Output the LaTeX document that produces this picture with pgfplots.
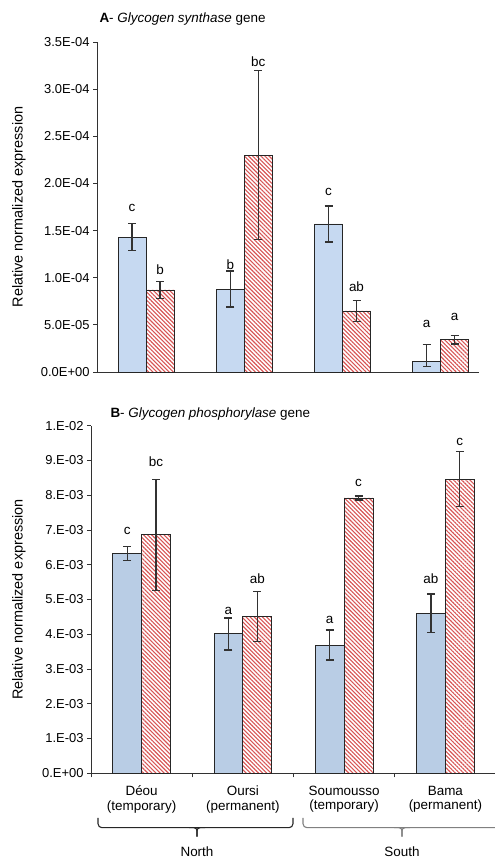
\documentclass[border=0pt]{standalone}
\usepackage{fontspec}
\setmainfont{Liberation Sans}
\usepackage{pgfplots}
\pgfplotsset{compat=1.18}
\usetikzlibrary{patterns.meta}
\definecolor{barblueA}{RGB}{198,217,241}
\definecolor{barblueB}{RGB}{185,205,229}
\definecolor{hatchred}{RGB}{215,85,85}
\definecolor{axgray}{RGB}{50,50,50}
\newcommand{\fs}[1]{\fontsize{#1}{#1}\selectfont}
\tikzset{lett/.style={font=\fs{13.5}, anchor=base, inner sep=0pt}}
\pgfplotsset{
  common/.style={
    scale only axis, clip=false,
    axis x line*=bottom, axis y line*=left,
    axis line style={-, draw=axgray, line width=0.9bp},
    tick align=outside, major tick length=4bp,
    tick style={draw=axgray, line width=0.9bp},
    ytick pos=left, scaled y ticks=false,
    yticklabel style={font=\fs{13}},
    xmin=0.5, ymin=0,
  },
  errs/.style={
    error bars/y dir=both, error bars/y explicit,
    error bars/error bar style={draw=axgray, line width=1.3bp},
    error bars/error mark options={rotate=90, mark size=4bp, line width=1.3bp, draw=axgray}},
  bluebar/.style={ybar, bar width=0.285, bar shift=0pt, draw=black!85, line width=0.9bp, errs},
  redbar/.style={ybar, bar width=0.285, bar shift=0pt, draw=black!85, line width=0.9bp,
    fill=white, pattern={Lines[angle=-45, distance=2.9bp, line width=1.1bp]}, pattern color=hatchred, errs},
}
\begin{document}
\begin{tikzpicture}
\path[use as bounding box] (0,0) rectangle (495bp,859bp);
% Panel A
\begin{axis}[common,
  at={(97bp,487bp)}, anchor=south west,
  width=382bp, height=330bp,
  xmax=4.39, ymax=3.5e-4,
  xtick=\empty,
  ytick={0,0.5e-4,1e-4,1.5e-4,2e-4,2.5e-4,3e-4,3.5e-4},
  yticklabels={0.0E+00,5.0E-05,1.0E-04,1.5E-04,2.0E-04,2.5E-04,3.0E-04,3.5E-04},
]
\addplot[bluebar, fill=barblueA] coordinates {
  (0.8575,1.43e-4) +- (0,1.45e-5)
  (1.8575,0.88e-4) +- (0,1.9e-5)
  (2.8575,1.57e-4) +- (0,1.9e-5)
  (3.8575,0.11e-4) += (0,1.8e-5) -= (0,0.5e-5)
};
\addplot[redbar] coordinates {
  (1.1425,0.87e-4) +- (0,0.93e-5)
  (2.1425,2.30e-4) +- (0,0.895e-4)
  (3.1425,0.647e-4) +- (0,1.13e-5)
  (4.1425,0.343e-4) +- (0,0.45e-5)
};
\node[lett] at (axis cs:0.8575,1.697e-4) {c};
\node[lett] at (axis cs:1.1425,1.039e-4) {b};
\node[lett] at (axis cs:1.8575,1.092e-4) {b};
\node[lett] at (axis cs:2.1425,3.245e-4) {bc};
\node[lett] at (axis cs:2.8575,1.877e-4) {c};
\node[lett] at (axis cs:3.1425,0.859e-4) {ab};
\node[lett] at (axis cs:3.8575,0.467e-4) {a};
\node[lett] at (axis cs:4.1425,0.541e-4) {a};
\end{axis}
% Panel B
\begin{axis}[common,
  at={(91bp,85.7bp)}, anchor=south west,
  width=405bp, height=347.6bp,
  xmax=4.5, ymax=1e-2,
  xtick={0.5,1.5,2.5,3.5,4.5}, xticklabels={},
  extra x ticks={1,2,3,4},
  extra x tick labels={{D\'eou\\(temporary)},{Oursi\\(permanent)},{Soumousso\\(temporary)},{Bama\\(permanent)}},
  extra x tick style={major tick length=0pt, tick label style={font=\fontsize{13.5}{14.5}\selectfont, align=center, yshift=-9bp}},
  ytick={0,1e-3,2e-3,3e-3,4e-3,5e-3,6e-3,7e-3,8e-3,9e-3,1e-2},
  yticklabels={0.E+00,1.E-03,2.E-03,3.E-03,4.E-03,5.E-03,6.E-03,7.E-03,8.E-03,9.E-03,1.E-02},
]
\addplot[bluebar, fill=barblueB] coordinates {
  (0.8575,6.33e-3) +- (0,0.2e-3)
  (1.8575,4.01e-3) +- (0,0.46e-3)
  (2.8575,3.69e-3) +- (0,0.43e-3)
  (3.8575,4.61e-3) +- (0,0.55e-3)
};
\addplot[redbar] coordinates {
  (1.1425,6.86e-3) +- (0,1.6e-3)
  (2.1425,4.51e-3) +- (0,0.71e-3)
  (3.1425,7.92e-3) +- (0,0.06e-3)
  (4.1425,8.46e-3) +- (0,0.79e-3)
};
\node[lett] at (axis cs:0.8575,6.86e-3) {c};
\node[lett] at (axis cs:1.1425,8.82e-3) {bc};
\node[lett] at (axis cs:1.8575,4.58e-3) {a};
\node[lett] at (axis cs:2.1425,5.47e-3) {ab};
\node[lett] at (axis cs:2.8575,4.32e-3) {a};
\node[lett] at (axis cs:3.1425,8.25e-3) {c};
\node[lett] at (axis cs:3.8575,5.47e-3) {ab};
\node[lett] at (axis cs:4.1425,9.42e-3) {c};
\end{axis}
% titles and labels
\node[anchor=base west, font=\fs{13.5}] at (96bp,836.5bp) {\textbf{A}- \textit{Glycogen synthase} gene};
\node[anchor=base west, font=\fs{13.5}] at (107bp,441.5bp) {\textbf{B}- \textit{Glycogen phosphorylase} gene};
\node[rotate=90, font=\fs{14.5}] at (19bp,652bp) {Relative normalized expression};
\node[rotate=90, font=\fs{14.5}] at (19bp,259.5bp) {Relative normalized expression};
% braces
\draw[line width=1.1bp, draw=black!85, rounded corners=4bp] (98bp,41bp) -- (98bp,31.3bp) -- (293bp,31.3bp) -- (293bp,41bp);
\draw[line width=1.1bp, draw=black!85, rounded corners=3bp] (189bp,31.3bp) -- (197bp,31.3bp) -- (197bp,22.3bp);
\draw[line width=1.1bp, draw=black!85, rounded corners=3bp] (205bp,31.3bp) -- (197bp,31.3bp) -- (197bp,22.3bp);
\draw[line width=1.1bp, draw=black!50, rounded corners=4bp] (303bp,41bp) -- (303bp,31.3bp) -- (501bp,31.3bp) -- (501bp,41bp);
\draw[line width=1.1bp, draw=black!50, rounded corners=3bp] (394bp,31.3bp) -- (402bp,31.3bp) -- (402bp,22.3bp);
\draw[line width=1.1bp, draw=black!50, rounded corners=3bp] (410bp,31.3bp) -- (402bp,31.3bp) -- (402bp,22.3bp);
\node[anchor=base, font=\fs{13.5}] at (197bp,2.5bp) {North};
\node[anchor=base, font=\fs{13.5}] at (402bp,2.5bp) {South};
\end{tikzpicture}
\end{document}
